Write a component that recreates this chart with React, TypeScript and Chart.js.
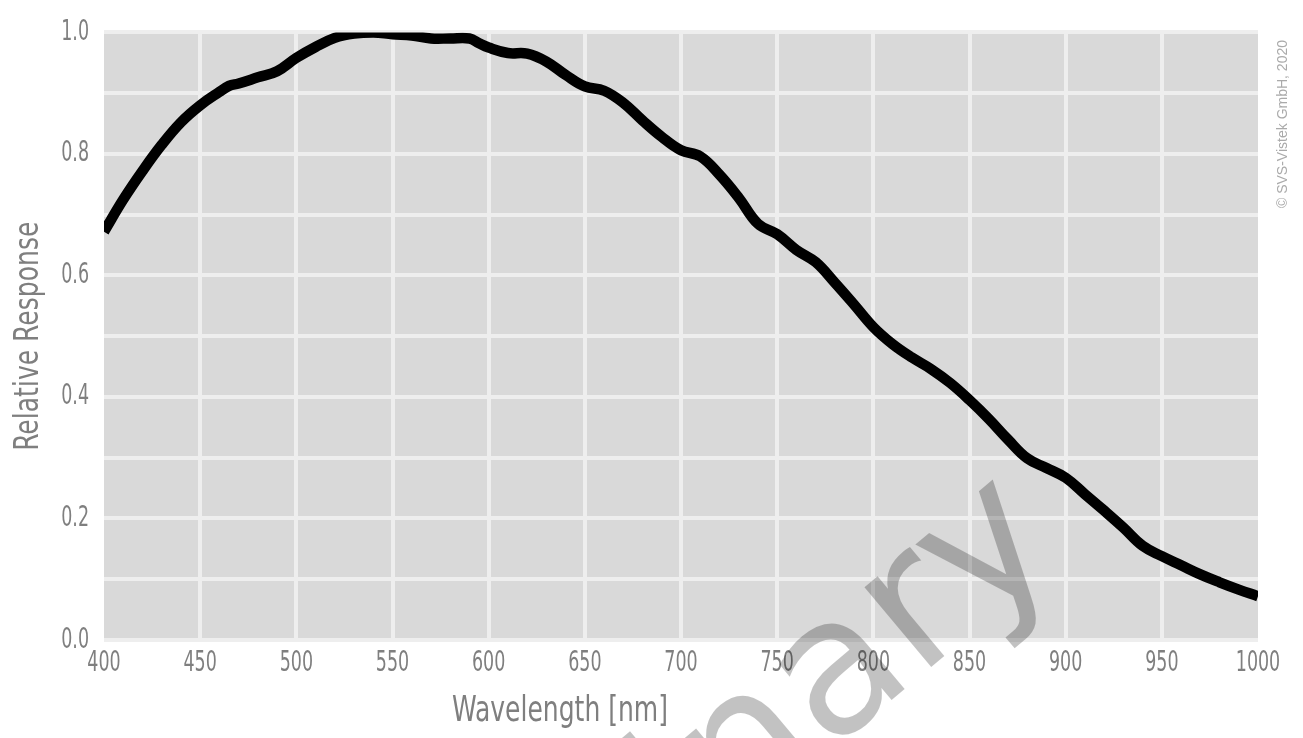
import React, { useEffect, useRef } from "react";
import { Chart, registerables } from "chart.js";

Chart.register(...registerables);

// ---- data ----
const wavelengths = [
  400, 410, 420, 430, 440, 450, 460, 465, 470, 480, 490, 500, 510, 520, 530, 540, 550, 560, 570, 580,
  590, 595, 600, 610, 620, 630, 640, 650, 660, 670, 680, 690, 700, 710, 720, 730, 740, 750, 760, 770,
  780, 790, 800, 810, 820, 830, 840, 850, 860, 870, 880, 890, 900, 910, 920, 930, 940, 950, 960, 970,
  980, 990, 1000,
];
const relativeResponse = [
  0.672, 0.725, 0.772, 0.815, 0.852, 0.880, 0.902, 0.912, 0.916, 0.926, 0.936, 0.958, 0.976, 0.991, 0.998, 1.0, 0.997, 0.995, 0.990, 0.990,
  0.990, 0.982, 0.975, 0.966, 0.965, 0.952, 0.930, 0.911, 0.904, 0.884, 0.855, 0.828, 0.806, 0.796, 0.766, 0.728, 0.685, 0.668, 0.642, 0.622,
  0.588, 0.552, 0.515, 0.487, 0.465, 0.446, 0.423, 0.395, 0.364, 0.330, 0.299, 0.283, 0.267, 0.240, 0.213, 0.185, 0.155, 0.138, 0.123, 0.108,
  0.095, 0.083, 0.072,
];
const xTickValues = [400, 450, 500, 550, 600, 650, 700, 750, 800, 850, 900, 950, 1000];
const yGridValues = [0, 0.1, 0.2, 0.3, 0.4, 0.5, 0.6, 0.7, 0.8, 0.9, 1.0];
const yTickLabels = ["0.0", "", "0.2", "", "0.4", "", "0.6", "", "0.8", "", "1.0"];
const xTitle = "Wavelength [nm]";
const yTitle = "Relative Response";
const copyrightText = "© SVS-Vistek GmbH, 2020";
const watermarkText = "Preliminary";

const NARROW = "'DejaVu Sans Condensed', 'DejaVu Sans', sans-serif";
const TEXT_GRAY = "#7f7f7f";
const GRID = "#eeeeee";

// Condense axis text horizontally (mimics a condensed typeface) while scales are drawn.
const condensePlugin = {
  id: "condenseAxisText",
  beforeDraw(chart: any) {
    const ctx: any = chart.ctx;
    if (!ctx.__origFillText) ctx.__origFillText = ctx.fillText;
    const orig = ctx.__origFillText;
    ctx.fillText = function (text: string, x: number, y: number, maxWidth?: number) {
      const m = /(\d+(?:\.\d+)?)px/.exec(this.font);
      const size = m ? parseFloat(m[1]) : 12;
      const factor = size >= 32 ? 0.82 : 0.67;
      const w = this.measureText(text).width * factor;
      const mw = maxWidth === undefined ? w : Math.min(maxWidth, w);
      return orig.call(this, text, x, y, mw);
    };
  },
  beforeDatasetsDraw(chart: any) {
    const ctx: any = chart.ctx;
    if (ctx.__origFillText) ctx.fillText = ctx.__origFillText;
  },
};

const backgroundPlugin = {
  id: "panelBackground",
  beforeDraw(chart: any) {
    const { ctx, chartArea } = chart;
    ctx.save();
    ctx.fillStyle = "#d9d9d9";
    ctx.fillRect(chartArea.left, chartArea.top, chartArea.right - chartArea.left, chartArea.bottom - chartArea.top);
    ctx.restore();
  },
};

const overlayPlugin = {
  id: "overlayTexts",
  afterDraw(chart: any) {
    const { ctx, chartArea } = chart;
    // x-axis title
    ctx.save();
    ctx.font = `36px ${NARROW}`;
    ctx.fillStyle = TEXT_GRAY;
    ctx.textAlign = "center";
    ctx.textBaseline = "alphabetic";
    ctx.fillText(xTitle, 560, chartArea.bottom + 81, 216);
    ctx.restore();

    // copyright
    ctx.save();
    ctx.translate(chartArea.right + 25, 124);
    ctx.rotate(-Math.PI / 2);
    ctx.font = "14px 'Liberation Sans', Arial, sans-serif";
    ctx.fillStyle = "#aaaaaa";
    ctx.textAlign = "center";
    ctx.textBaseline = "middle";
    ctx.fillText(copyrightText, 0, 0);
    ctx.restore();

    // watermark
    ctx.save();
    const angle = (-40 * Math.PI) / 180;
    ctx.font = "190px 'DejaVu Sans', sans-serif";
    const pre = ctx.measureText(watermarkText.slice(0, 9)).width;
    const dx = Math.cos(angle);
    const dy = Math.sin(angle);
    const rx = 918;
    const ry = 678;
    ctx.translate(rx - pre * dx, ry - pre * dy);
    ctx.rotate(angle);
    ctx.fillStyle = "rgba(0,0,0,0.24)";
    ctx.textAlign = "left";
    ctx.textBaseline = "alphabetic";
    ctx.fillText(watermarkText, 0, 0);
    ctx.restore();
  },
};

export default function App() {
  const canvasRef = useRef<HTMLCanvasElement | null>(null);

  useEffect(() => {
    if (!canvasRef.current) return;
    const chart = new Chart(canvasRef.current, {
      type: "line",
      data: {
        datasets: [
          {
            data: wavelengths.map((w, i) => ({ x: w, y: relativeResponse[i] })),
            borderColor: "#000000",
            borderWidth: 10.5,
            pointRadius: 0,
            tension: 0.4,
            fill: false,
            borderCapStyle: "butt",
            borderJoinStyle: "round",
          },
        ],
      },
      options: {
        animation: false,
        responsive: true,
        maintainAspectRatio: false,
        layout: { padding: { top: 15, right: 45, bottom: 0, left: 0 } },
        plugins: {
          legend: { display: false },
          tooltip: { enabled: false },
          title: { display: false },
        },
        scales: {
          x: {
            type: "linear",
            min: 400,
            max: 1000,
            afterBuildTicks: (scale: any) => {
              scale.ticks = xTickValues.map((v) => ({ value: v }));
            },
            afterFit: (scale: any) => {
              scale.height = 98;
            },
            grid: {
              color: (c: any) =>
                c.tick && (c.tick.value === 400 || c.tick.value === 1000) ? "rgba(0,0,0,0)" : GRID,
              lineWidth: 4,
              drawTicks: false,
            },
            border: { display: false },
            ticks: {
              color: TEXT_GRAY,
              font: { family: NARROW, size: 29 },
              padding: 6,
              maxRotation: 0,
              autoSkip: false,
              callback: (v: any) => String(v),
            },
          },
          y: {
            type: "linear",
            min: 0,
            max: 1,
            afterBuildTicks: (scale: any) => {
              scale.ticks = yGridValues.map((v) => ({ value: v }));
            },
            afterFit: (scale: any) => {
              scale.width = 104;
            },
            grid: { color: GRID, lineWidth: 4, drawTicks: false },
            border: { display: false },
            title: {
              display: true,
              text: yTitle,
              color: TEXT_GRAY,
              font: { family: NARROW, size: 34 },
              padding: { top: 9, bottom: 0 },
            },
            ticks: {
              color: TEXT_GRAY,
              font: { family: NARROW, size: 29 },
              padding: 15,
              autoSkip: false,
              callback: (_v: any, i: number) => yTickLabels[i],
            },
          },
        },
      },
      plugins: [condensePlugin, backgroundPlugin, overlayPlugin],
    } as any);
    return () => chart.destroy();
  }, []);

  return (
    <div style={{ position: "fixed", left: 0, top: 0, width: 1303, height: 738, background: "#ffffff" }}>
      <canvas ref={canvasRef} />
    </div>
  );
}
